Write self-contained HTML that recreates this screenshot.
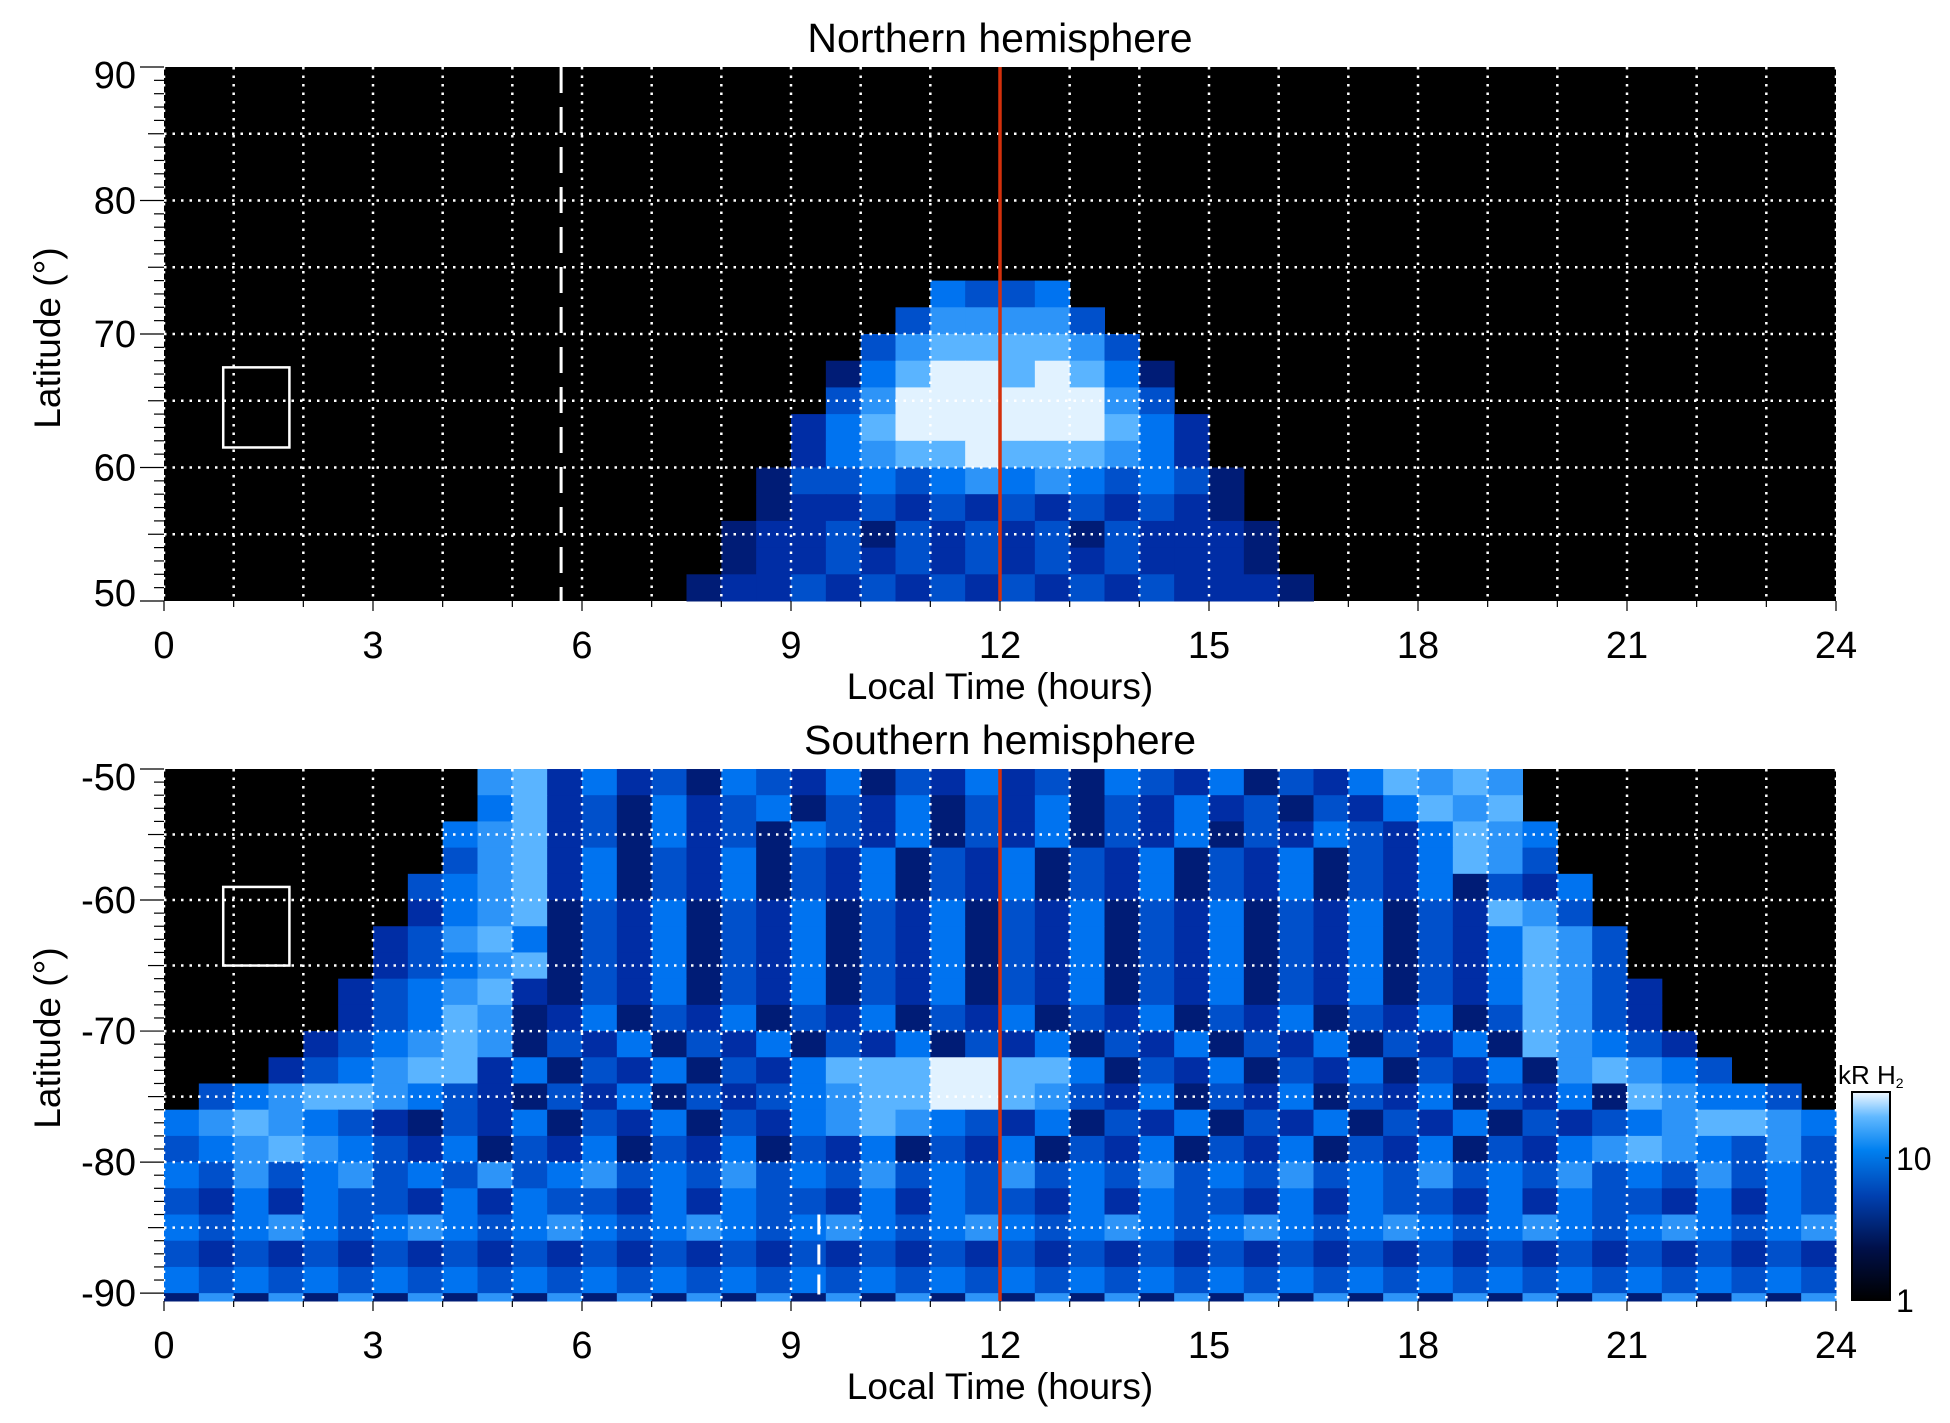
<!DOCTYPE html>
<html><head><meta charset="utf-8">
<style>
html,body{margin:0;padding:0;background:#fff;}
svg{display:block;font-family:"Liberation Sans",sans-serif;}
</style></head>
<body>
<svg id="chart" width="1950" height="1423" viewBox="0 0 1950 1423" xmlns="http://www.w3.org/2000/svg">
<defs>
<linearGradient id="cbar" x1="0" y1="1" x2="0" y2="0">
<stop offset="0" stop-color="#000000"/>
<stop offset="0.25" stop-color="#00104a"/>
<stop offset="0.5" stop-color="#0040b0"/>
<stop offset="0.72" stop-color="#0080f0"/>
<stop offset="0.88" stop-color="#60b8ff"/>
<stop offset="1" stop-color="#f0f8ff"/>
</linearGradient>
</defs>
<g id="layer"></g>
</svg>
<script>
// ---- data ----
const xTickLabels = [0,3,6,9,12,15,18,21,24];
const northYTicks = [50,60,70,80,90];
const southYTicks = [-90,-80,-70,-60,-50];
const cbarTicks = [1,10];
const noonHour = 12;
const northDashHour = 5.7;
const southDashHour = 9.4;
// heatmap cells: 0.5 h columns, 2 degree rows; [startColumn, digit intensities 0-9]
const northRows = [
 [0,""],[0,""],[0,""],[0,""],[0,""],[0,""],[0,""],[0,""],
 [22,"6556"],
 [21,"577775"],
 [20,"57888875"],
 [19,"3689989863"],
 [19,"5799999975"],
 [18,"468999999864"],
 [18,"467889888764"],
 [17,"35565676765653"],
 [17,"34454545454543"],
 [16,"3445354545354443"],
 [16,"3445454545454443"],
 [15,"344545454545454443"]
];
const southRows = [
 [9,"784645365463546453654635468787"],
 [9,"684536456354635463546453546878"],
 [8,"67845364536546354635463546546876"],
 [8,"57846354635463546354635463546875"],
 [7,"5678463546354635463546354635463546"],
 [7,"4678354635463546354635463546354875"],
 [6,"457863546354635463546354635463546875"],
 [6,"456783546354635463546354635463546875"],
 [5,"45678435463546354635463546354635468754"],
 [5,"45687346354635463546354635463546358754"],
 [4,"4567873546354635463546354635463546387654"],
 [3,"456788463546354688899886354635463546378765"],
 [1,"5678876543546354567889987546354635463546387665"],
 [0,"678765435463546354678765463546354635463545678876"],
 [0,"567876546354635463546354635463546354635467876575"],
 [0,"657567565756756575657565756575657565756575657565"],
 [0,"546465546465546465546465546465546465546465546465"],
 [0,"656765676567656765676567656765676567656765676567"],
 [0,"545454545454545454545454545454545454545454545454"],
 [0,"656565656565656565656565656565656565656565656565"],
 [0,"373737373737373737373737373737373737373737373737"]
];
const northBox = [0.85,1.8,61.5,67.5];
const southBox = [0.85,1.8,-59,-65];

// ---- layout ----
const X0=164, X1=1836;
const xs = h => X0 + h*(X1-X0)/24;
const panels = [
 {name:"northern", title:"Northern hemisphere", top:67, bottom:601, latTop:90, latBot:50, rows:northRows, ticks:northYTicks, box:northBox, grid:[55,60,65,70,75,80,85], xl:645, xt:686, tt:38, yl:338},
 {name:"southern", title:"Southern hemisphere", top:769, bottom:1301, latTop:-50, latBot:-90.6, rows:southRows, ticks:southYTicks, box:southBox, grid:[-55,-60,-65,-70,-75,-80,-85], xl:1345, xt:1386, tt:740, yl:1038}
];
const stops=[[0,[0,0,0]],[2,[0,10,70]],[4,[0,45,165]],[6,[0,115,240]],[8,[90,180,255]],[9,[225,242,255]]];
function col(v){for(let i=1;i<stops.length;i++){if(v<=stops[i][0]){const a=stops[i-1],b=stops[i];const t=(v-a[0])/(b[0]-a[0]);const c=a[1].map((q,k)=>Math.round(q+(b[1][k]-q)*t));return `rgb(${c[0]},${c[1]},${c[2]})`;}}return "#fff";}
const NS="http://www.w3.org/2000/svg";
const layer=document.getElementById('layer');
function mk(tag,attrs,parent){const e=document.createElementNS(NS,tag);for(const k in attrs)e.setAttribute(k,attrs[k]);(parent||layer).appendChild(e);return e;}

panels.forEach(p=>{
 const g=mk('g',{});
 
 
 const ys = lat => p.top + (p.latTop-lat)*(p.bottom-p.top)/(p.latTop-p.latBot);
 const bg=mk('rect',{x:X0,y:p.top,width:X1-X0,height:p.bottom-p.top,fill:'#000'},g);
 
 
 p.rows.forEach((r,ri)=>{
  const latA=p.latTop-2*ri, latB=Math.max(p.latTop-2*ri-2,p.latBot);
  for(let i=0;i<r[1].length;i++){
   const v=+r[1][i]; if(!v)continue;
   const c=r[0]+i; if(c>47)continue;
   const cell=mk('rect',{x:xs(c*0.5),y:ys(latA),width:xs(0.5)-xs(0)+0.5,height:ys(latB)-ys(latA)+0.5,fill:col(v)},g);
   
   
  }
 });
 for(let h=0;h<=24;h++){
  const l=mk('line',{x1:xs(h),x2:xs(h),y1:p.top,y2:p.bottom,stroke:'#fff','stroke-width':2.5,'stroke-dasharray':'2.5 6'},g);
  
  
  const t=mk('line',{x1:xs(h),x2:xs(h),y1:p.bottom,y2:p.bottom+(h%3?6:10),stroke:'#000','stroke-width':1.2},g);
  
  
 }
 p.grid.forEach(lat=>{
  const l=mk('line',{x1:X0,x2:X1,y1:ys(lat),y2:ys(lat),stroke:'#fff','stroke-width':2.5,'stroke-dasharray':'2.5 6'},g);
  
  
 });
 const lo=Math.min(p.latTop,p.latBot), hi=Math.max(p.latTop,p.latBot);
 for(let lat=Math.ceil(lo);lat<=hi;lat++){
  const major=lat%10===0, mid=lat%5===0;
  const t=mk('line',{x1:X0-(major?24:mid?16:10),x2:X0,y1:ys(lat),y2:ys(lat),stroke:'#000','stroke-width':1.2},g);
  
  
 }
 p.ticks.forEach((lat,i)=>{
  let y=ys(lat)+13;
  if(lat===hi) y+=8;
  if(lat===Math.round(lo)) y-=8;
  const t=mk('text',{x:X0-28,y:y,'text-anchor':'end','font-size':38},g);
  t.textContent=lat;
  
  
 });
 xTickLabels.forEach(h=>{
  const t=mk('text',{x:xs(h),y:p.xl+13,'text-anchor':'middle','font-size':38},g);
  t.textContent=h;
  
  
 });
 const xt=mk('text',{x:xs(12),y:p.xt+13,'text-anchor':'middle','font-size':37},g);
 xt.textContent='Local Time (hours)';
 
 
 const tt=mk('text',{x:xs(12),y:p.tt+14,'text-anchor':'middle','font-size':41},g);
 tt.textContent=p.title;
 
 
 const yt=mk('text',{x:0,y:0,'text-anchor':'middle','font-size':37,transform:`translate(60,${p.yl}) rotate(-90)`},g);
 yt.textContent='Latitude (°)';
 
 
 const b=p.box;
 const bx=mk('rect',{x:xs(b[0]),y:Math.min(ys(b[2]),ys(b[3])),width:xs(b[1])-xs(b[0]),height:Math.abs(ys(b[3])-ys(b[2])),fill:'none',stroke:'#fff','stroke-width':2.5},g);
 
 
 if(p.name==='northern'){
  const d=mk('line',{x1:xs(northDashHour),x2:xs(northDashHour),y1:p.top,y2:p.bottom,stroke:'#fff','stroke-width':3,'stroke-dasharray':'26 14'},g);
  
  
 } else {
  const d=mk('line',{x1:xs(southDashHour),x2:xs(southDashHour),y1:ys(-84),y2:p.bottom,stroke:'#fff','stroke-width':3,'stroke-dasharray':'20 10'},g);
  
  
 }
 const red=mk('line',{x1:xs(noonHour),x2:xs(noonHour),y1:p.top,y2:p.bottom,stroke:'#d4300c','stroke-width':3.5},g);
 
 
});

// colorbar
const cb=mk('g',{});


const CB_TOP=1092, CB_BOT=1300, CB_X=1852, CB_W=38;
const cbv = v => CB_BOT - Math.log10(v)*142;
mk('rect',{x:CB_X,y:CB_TOP,width:CB_W,height:CB_BOT-CB_TOP,fill:'url(#cbar)',stroke:'#000','stroke-width':2},cb);
cbarTicks.forEach(v=>{
 const t=mk('text',{x:CB_X+CB_W+6,y:cbv(v)+12,'font-size':32},cb);
 t.textContent=v;
 
 
 mk('line',{x1:CB_X+CB_W-5,x2:CB_X+CB_W,y1:cbv(v),y2:cbv(v),stroke:'#000','stroke-width':1.5},cb);
});
const cbt=mk('text',{x:1838,y:1084,'font-size':26},cb);
cbt.innerHTML='kR H<tspan font-size="14" dy="4">2</tspan>';


</script>
</body></html>
